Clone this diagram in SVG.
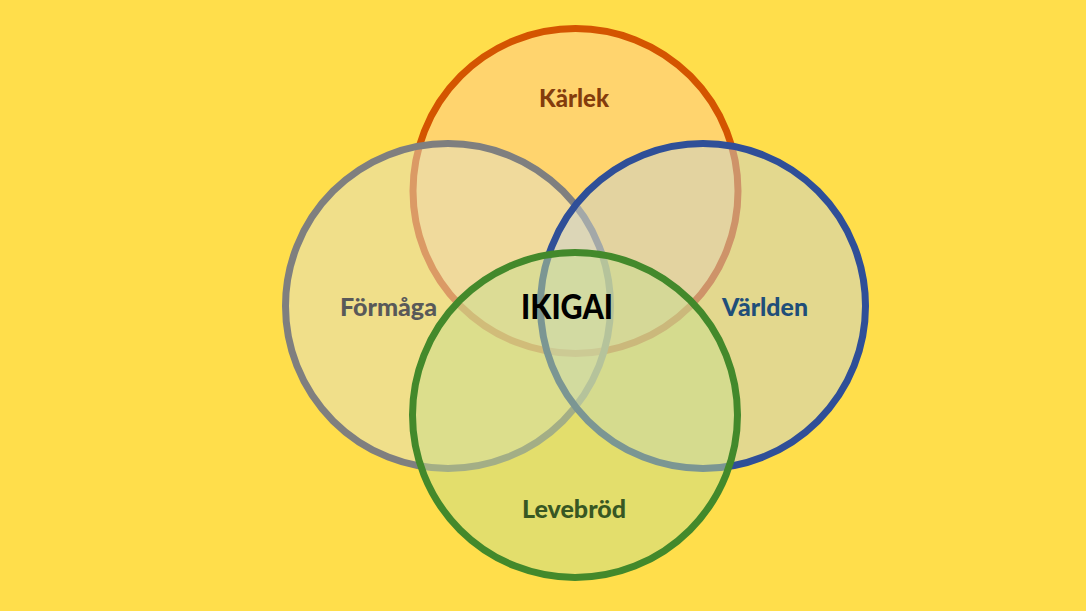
<svg xmlns="http://www.w3.org/2000/svg" width="1086" height="611" viewBox="0 0 1086 611">
<style>
.t{font-family:Lato,"Open Sans","Liberation Sans",sans-serif;font-weight:900;text-anchor:middle}
</style>
<rect width="1086" height="611" fill="#FFDE4B"/>
<g id="karlek">
<circle cx="575.5" cy="191" r="162.5" fill="#FFCA92" fill-opacity="0.5" stroke="#D45500" stroke-width="7"/>
<text class="t" x="574" y="107" font-size="24" fill="#843C0C" textLength="70" lengthAdjust="spacingAndGlyphs">Kärlek</text>
</g>
<g id="formaga">
<circle cx="448" cy="306" r="162.5" fill="#E1E0CA" fill-opacity="0.5" stroke="#7F7F7F" stroke-width="7"/>
<text class="t" x="388.5" y="316" font-size="24" fill="#595959" textLength="97" lengthAdjust="spacingAndGlyphs">Förmåga</text>
</g>
<g id="varlden">
<circle cx="703" cy="306" r="162.5" fill="#C7D2D2" fill-opacity="0.5" stroke="#2F4F98" stroke-width="7"/>
<text class="t" x="765" y="316" font-size="24" fill="#1F4E79" textLength="86" lengthAdjust="spacingAndGlyphs">Världen</text>
</g>
<g id="levebrod">
<circle cx="575" cy="415" r="162.5" fill="#C7DE8E" fill-opacity="0.5" stroke="#43892B" stroke-width="7"/>
<text class="t" x="574" y="518" font-size="24" fill="#385723" textLength="104" lengthAdjust="spacingAndGlyphs">Levebröd</text>
</g>
<g id="ikigai">
<text class="t" x="567" y="319" font-size="35" fill="#000000" textLength="92" lengthAdjust="spacingAndGlyphs">IKIGAI</text>
</g>
<g id="connectors"/>
</svg>
